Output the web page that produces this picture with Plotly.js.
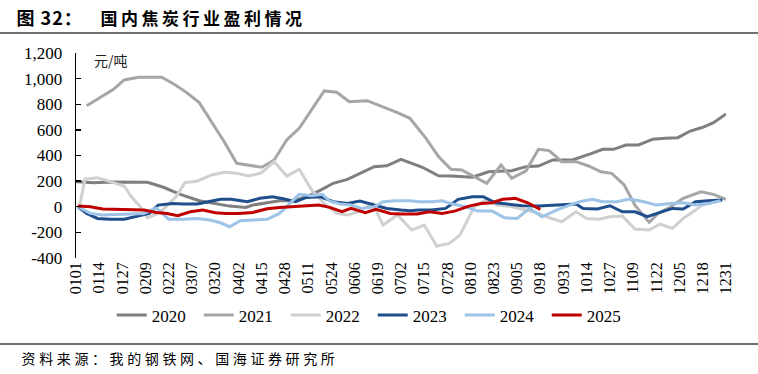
<!DOCTYPE html>
<html>
<head>
<meta charset="utf-8">
<script src="https://cdn.plot.ly/plotly-3.0.1.min.js"></script>
<style>
  html, body { margin: 0; padding: 0; background: #fff; }
  #chart { width: 758px; height: 374px; }
  #chart .xtick text, #chart .ytick text, #chart .legendtext {
    font-family: "Liberation Serif", "Times New Roman", serif !important;
  }
  g.annotation[data-index="0"] text { letter-spacing: 1px; }
  g.annotation[data-index="1"] text { letter-spacing: 3.5px; }
  g.annotation[data-index="3"] text { letter-spacing: 3.6px; }
</style>
</head>
<body>
<div id="chart"></div>
<script>
// Category labels (day-of-year index, 0 = 0101)
const tickLabels = ['0101','0114','0127','0209','0222','0307','0320','0402','0415','0428','0511','0524','0606','0619','0702','0715','0728','0810','0823','0905','0918','0931','1014','1027','1109','1122','1205','1218','1231'];
const tickDays = [0,13,26,39,52,65,78,91,104,117,130,143,156,169,182,195,208,221,234,247,260,273,286,299,312,325,338,351,364];
const minorTickDays = [20,40,60,80,100,120,140,160,180,200,220,240,260,280,300,320,340,360];

const yTickVals = [-400,-200,0,200,400,600,800,1000,1200];
const yTickText = ['-400','-200','0','200','400','600','800','1,000','1,200'];

// Series (day index, value in 元/吨)
const d2020 = [0,10,19,28,40,49,58,69,79,86,95,99,107,114,122,129,137,144,152,159,167,174,182,194,203,210,222,231,244,252,259,267,278,288,295,301,308,315,323,330,337,344,351,357,364];
const v2020 = [195,188,193,193,191,152,99,47,21,5,-5,13,31,47,47,78,130,183,214,261,313,320,370,308,242,240,230,273,281,313,318,365,365,412,448,448,482,482,527,534,539,591,620,656,724];

const d2021 = [6,14,21,27,35,41,48,55,62,69,76,83,90,97,104,111,118,125,132,139,146,153,163,172,180,187,196,203,210,216,223,230,238,244,252,259,265,272,280,287,294,300,307,313,321,326,333,340,350,357,364];
const v2021 = [789,859,917,990,1011,1011,1011,956,891,813,664,508,339,326,308,365,521,612,755,904,894,820,828,781,734,690,534,391,292,287,234,183,326,222,281,448,438,352,352,318,273,261,170,13,-122,-52,0,66,117,97,58];

const d2022 = [2,5,12,19,27,31,36,40,47,56,61,68,76,83,90,97,104,111,118,125,132,139,146,152,158,166,172,180,188,195,202,209,215,223,229,236,244,252,259,266,272,280,286,293,299,306,313,321,327,334,340,347,352];
const v2022 = [0,215,227,195,162,78,0,-86,-44,78,188,201,248,269,261,240,266,352,240,292,130,26,-52,-65,-39,26,-143,-65,-182,-143,-307,-286,-221,0,50,13,0,-26,-52,-90,-117,-39,-91,-98,-78,-73,-174,-182,-135,-169,-91,-26,26];

const d2023 = [1,6,12,19,27,34,41,46,54,60,68,74,81,87,96,103,110,116,123,129,137,144,152,159,167,174,182,187,192,199,207,214,222,228,235,242,250,259,267,272,280,284,292,299,306,313,320,327,334,340,347,354,362];
const v2023 = [0,-52,-91,-98,-98,-78,-52,13,26,21,21,39,58,58,39,66,78,62,39,73,78,39,26,44,13,-13,-26,-31,-26,-26,-13,58,78,78,31,18,8,5,13,13,21,-13,-18,8,-39,-39,-78,-44,-13,-18,39,47,52];

const d2024 = [1,8,15,23,30,38,45,52,60,68,75,81,86,92,99,107,114,120,125,132,138,142,148,154,160,167,172,179,187,192,199,205,211,218,225,233,240,247,254,261,270,278,282,289,295,303,310,318,325,333,340,347,353,361];
const v2024 = [0,-52,-65,-60,-52,-52,-10,-98,-98,-91,-104,-125,-156,-109,-104,-98,-52,26,97,86,97,44,21,13,-13,0,39,47,47,39,39,47,21,0,-34,-34,-86,-91,-13,-78,-20,21,39,58,39,39,60,39,13,26,31,13,21,47];

const d2025 = [1,8,15,23,30,38,45,51,57,64,71,78,84,91,99,107,114,122,129,136,142,149,154,162,168,176,182,191,198,205,212,220,227,233,239,246,253,260];
const v2025 = [5,0,-18,-20,-20,-26,-44,-52,-70,-39,-26,-47,-52,-52,-44,-16,-5,0,8,13,-5,-39,-13,-47,-20,-52,-57,-57,-39,-52,-34,5,26,31,58,66,31,-20];

const seriesNames = ['2020','2021','2022','2023','2024','2025'];
const seriesX = [d2020,d2021,d2022,d2023,d2024,d2025];
const seriesY = [v2020,v2021,v2022,v2023,v2024,v2025];
const seriesColors = ['#7F7F7F','#A6A6A6','#D0D0D0','#1F4E8C','#9DC3E6','#C00000'];

const traces = seriesNames.map((n,i) => ({
  type: 'scatter', mode: 'lines', name: n,
  x: seriesX[i], y: seriesY[i],
  line: {color: seriesColors[i], width: 3},
  hoverinfo: 'skip'
}));

const serif = 'Liberation Serif';
const cjk = 'Noto Sans CJK SC';

const layout = {
  width: 758, height: 374,
  margin: {l: 76, r: 32, t: 53, b: 116},
  paper_bgcolor: '#fff', plot_bgcolor: '#fff',
  showlegend: true,
  legend: {
    orientation: 'h', x: 0.055, xanchor: 'left', y: -0.192, yanchor: 'top',
    font: {family: serif, size: 17, color: '#000'},
    entrywidth: 42, entrywidthmode: 'pixels',
    itemwidth: 30, tracegroupgap: 0, bgcolor: 'rgba(0,0,0,0)'
  },
  xaxis: {
    range: [0, 364], tickmode: 'array', tickvals: tickDays, ticktext: tickLabels,
    tickangle: -90, ticks: '', showline: false, showgrid: false, zeroline: false,
    tickfont: {family: serif, size: 16, color: '#000'}
  },
  xaxis2: {
    overlaying: 'x', matches: 'x', anchor: 'free', position: 0.25, side: 'top',
    range: [0, 364], tickmode: 'array', tickvals: minorTickDays,
    ticks: 'outside', ticklen: 6, tickwidth: 1.3, tickcolor: '#000',
    showticklabels: false, showline: true, linecolor: '#000', linewidth: 1.3,
    showgrid: false, zeroline: false, layer: 'below traces'
  },
  yaxis: {
    range: [-400, 1200], tickmode: 'array', tickvals: yTickVals, ticktext: yTickText,
    ticks: 'inside', ticklen: 5, tickwidth: 1.3, tickcolor: '#000',
    showline: true, linecolor: '#000', linewidth: 1.3,
    showgrid: false, zeroline: false, ticklabelstandoff: 9,
    tickfont: {family: serif, size: 17, color: '#000'}
  },
  shapes: [
    {type: 'line', xref: 'paper', yref: 'paper', x0: -76/650, x1: 758/650 - 76/650,
     y0: (374-33-116)/205, y1: (374-33-116)/205, line: {color: '#404040', width: 1.5}},
    {type: 'line', xref: 'paper', yref: 'paper', x0: -76/650, x1: 758/650 - 76/650,
     y0: (374-344-116)/205, y1: (374-344-116)/205, line: {color: '#404040', width: 1.5}}
  ],
  annotations: [
    {text: '<b>图 32：</b>', xref: 'paper', yref: 'paper', x: (17-76)/650, y: (374-17-116)/205,
     xanchor: 'left', yanchor: 'middle', showarrow: false,
     font: {family: cjk, size: 18, color: '#000'}},
    {text: '<b>国内焦炭行业盈利情况</b>', xref: 'paper', yref: 'paper', x: (203-76)/650, y: (374-17-116)/205,
     xanchor: 'center', yanchor: 'middle', showarrow: false,
     font: {family: cjk, size: 17, color: '#000'}},
    {text: '元/吨', xref: 'paper', yref: 'paper', x: (92-76)/650, y: (374-60-116)/205,
     xanchor: 'left', yanchor: 'middle', showarrow: false,
     font: {family: cjk, size: 14, color: '#222'}},
    {text: '资料来源：我的钢铁网、国海证券研究所', xref: 'paper', yref: 'paper', x: (180-76)/650, y: (374-358-116)/205,
     xanchor: 'center', yanchor: 'middle', showarrow: false,
     font: {family: cjk, size: 14, color: '#000'}}
  ]
};

Plotly.newPlot('chart', traces, layout, {staticPlot: true, displayModeBar: false});
</script>
</body>
</html>
